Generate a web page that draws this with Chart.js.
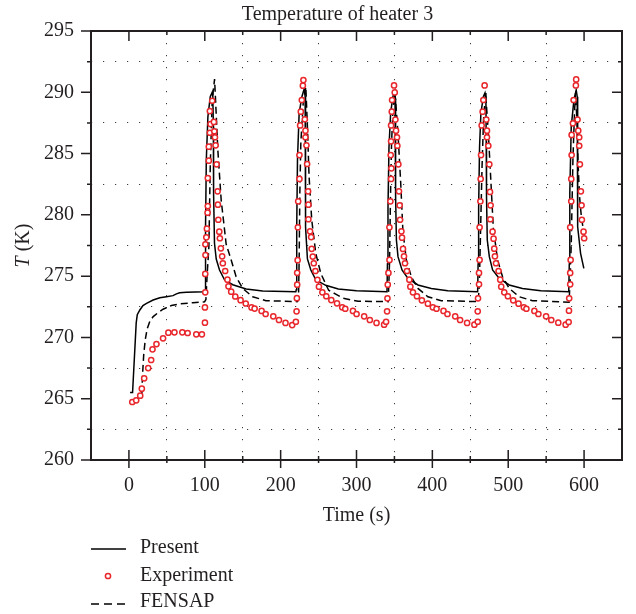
<!DOCTYPE html>
<html>
<head>
<meta charset="utf-8">
<title>Temperature of heater 3</title>
<script src="https://cdn.jsdelivr.net/npm/chart.js@4.4.0/dist/chart.umd.min.js"></script>
<style>
  body { margin: 0; background: #fff; }
  .wrap { position: relative; width: 636px; height: 614px; }
  #chart { position: absolute; left: 0; top: 0; }
  .legend { position: absolute; left: 0; top: 0; width: 636px; height: 614px; pointer-events: none; }
  .legend span {
    position: absolute; left: 140px; height: 24px; line-height: 24px;
    font: 20px 'Liberation Serif', serif; color: #231f20; white-space: nowrap;
  }
</style>
</head>
<body>
<div class="wrap">
  <canvas id="chart" width="636" height="614"></canvas>
  <div class="legend">
    <svg width="636" height="614" style="position:absolute;left:0;top:0">
      <line x1="91" y1="549" x2="126" y2="549" stroke="#000" stroke-width="1.5"/>
      <circle cx="108" cy="576" r="2.6" fill="#fff" stroke="#e8262b" stroke-width="1.5"/>
      <line x1="91" y1="604" x2="126" y2="604" stroke="#000" stroke-width="1.5" stroke-dasharray="8 5"/>
    </svg>
    <span style="top:535px">Present</span>
    <span style="top:563px">Experiment</span>
    <span style="top:589px">FENSAP</span>
  </div>
</div>

<script>
  // Present (solid line)
  const presentTime = [
    1.5, 4.8, 9.6, 11.0, 14.4, 18.5, 23.2, 31.9, 40.7, 49.5, 58.1, 62.6, 66.9, 75.7, 99.7,
    100.3, 101.0, 102.0, 104.1, 107.2, 109.8, 110.6, 111.3, 111.6, 112.8, 115.1, 119.4, 126.0, 136.9, 154.5, 176.3, 220.0,
    220.6, 221.2, 222.2, 224.4, 228.0, 231.2, 232.3, 232.5, 233.2, 235.3, 239.8, 246.3, 259.4, 276.0, 300.0, 340.2,
    340.8, 341.5, 342.8, 345.0, 347.8, 349.5, 350.8, 351.3, 351.8, 352.6, 354.7, 360.0, 367.9, 381.0, 398.6, 420.3, 459.7,
    460.3, 461.0, 462.2, 464.0, 467.2, 469.4, 470.6, 471.0, 471.4, 472.4, 475.1, 479.4, 488.2, 501.3, 518.8, 542.9, 579.8,
    580.5, 581.2, 583.1, 586.6, 589.6, 591.0, 591.2, 591.9, 595.4, 599.7
  ];
  const presentTemp = [
    265.5, 265.5, 271.2, 271.85, 272.24, 272.6, 272.78, 273.05, 273.24, 273.32, 273.41, 273.55, 273.65, 273.68, 273.72,
    273.8, 279.0, 284.5, 288.0, 289.64, 290.0, 289.64, 287.2, 281.76, 277.68, 276.4, 275.5, 274.7, 274.3, 273.95, 273.78, 273.72,
    273.9, 279.0, 284.5, 288.3, 289.64, 290.3, 289.64, 284.5, 279.0, 276.4, 275.5, 274.7, 274.25, 273.95, 273.8, 273.73,
    276.0, 280.5, 285.5, 288.3, 289.6, 289.95, 289.5, 286.0, 281.5, 277.95, 276.59, 275.5, 274.82, 274.28, 274.0, 273.81, 273.73,
    276.0, 280.5, 285.5, 288.3, 289.64, 289.95, 289.5, 286.0, 281.5, 277.95, 276.59, 275.5, 274.82, 274.28, 274.0, 273.81, 273.73,
    276.0, 281.76, 287.2, 289.37, 290.19, 289.64, 284.48, 279.03, 276.86, 275.64
  ];

  // Experiment (red circles)
  const experimentTime = [
    4.4, 9.6, 14.9, 17.0, 20.1, 25.4, 29.3, 31.1, 36.3, 45.0, 52.0, 60.0, 70.4, 77.4, 88.8, 96.2,
    100.2, 100.2, 100.6, 100.6, 100.9, 100.8, 102.0, 102.8, 103.7, 104.0, 104.0, 105.3, 105.3, 106.7, 107.6, 106.7, 109.8,
    112.0, 112.6, 113.4, 114.3, 115.6, 116.9, 117.3, 117.8, 119.1, 119.9, 121.2, 122.9, 123.8, 126.9, 129.9, 131.2,
    134.8, 140.2, 147.2, 154.0, 161.6, 165.7, 174.9, 180.2, 190.3, 197.8, 206.4, 215.2, 220.1,
    221.0, 221.4, 221.8, 221.8, 222.4, 222.7, 223.1, 224.8, 224.8, 225.7, 226.6, 227.9, 229.3, 230.0,
    231.9, 232.7, 232.7, 234.0, 234.9, 236.2, 236.6, 236.6, 238.8, 240.2, 240.9, 242.4, 243.7, 245.8, 248.5,
    250.5, 255.0, 260.2, 266.8, 274.3, 281.2, 285.2, 295.3, 300.1, 310.1, 317.6, 326.4, 336.4, 339.0,
    340.3, 340.8, 341.2, 342.1, 343.5, 343.4, 344.7, 345.6, 346.0, 345.1, 345.6, 345.6, 346.5, 346.9, 349.5, 350.4,
    351.3, 352.1, 353.4, 353.9, 355.2, 356.0, 356.9, 357.4, 359.2, 360.0, 361.3, 362.6, 363.9, 366.5, 369.7,
    371.0, 374.4, 379.7, 386.2, 394.1, 400.7, 405.5, 414.7, 419.9, 430.1, 436.6, 445.8, 455.4, 459.8,
    459.8, 460.2, 461.5, 461.5, 462.3, 462.3, 463.3, 463.7, 464.2, 465.0, 466.3, 467.2, 468.9,
    471.1, 472.0, 472.0, 473.8, 475.1, 476.0, 476.8, 476.4, 479.4, 480.7, 481.6, 482.5, 483.9, 487.3, 489.5,
    490.8, 494.8, 499.6, 506.6, 513.6, 520.6, 524.0, 534.5, 539.8, 549.9, 556.8, 566.0, 575.7, 579.7,
    580.1, 580.4, 581.7, 581.7, 582.3, 581.7, 583.1, 583.1, 583.6, 583.6, 585.3, 586.2, 589.2, 589.6,
    591.4, 592.3, 593.6, 593.6, 594.5, 595.8, 596.7, 597.1, 599.3, 600.1
  ];
  const experimentTemp = [
    264.73, 264.87, 265.25, 265.82, 266.66, 267.5, 268.16, 269.03, 269.46, 269.93, 270.39, 270.42, 270.42, 270.36, 270.25, 270.25,
    271.2, 272.45, 273.68, 275.18, 276.72, 277.6, 278.17, 278.87, 280.18, 280.72, 283.0, 284.42, 285.56, 286.7, 287.41, 288.47, 289.31,
    287.58, 286.82, 286.33, 285.67, 284.12, 281.92, 280.83, 279.6, 278.63, 278.09, 277.27, 276.62, 276.05, 275.42, 274.71, 274.17,
    273.73, 273.34, 273.04, 272.77, 272.45, 272.35, 272.16, 271.91, 271.72, 271.42, 271.18, 271.01, 271.28,
    272.13, 273.2, 274.3, 275.27, 276.3, 278.98, 281.1, 282.93, 284.88, 287.3, 288.42, 289.37, 290.54, 291.0,
    287.8, 286.87, 286.33, 285.67, 284.15, 281.92, 280.83, 279.64, 278.66, 278.19, 277.23, 276.6, 276.05, 275.42, 274.7,
    274.14, 273.68, 273.36, 273.05, 272.78, 272.46, 272.34, 272.16, 271.91, 271.72, 271.42, 271.18, 271.04, 271.28,
    272.13, 273.19, 274.3, 275.26, 276.32, 278.98, 281.1, 282.93, 283.8, 284.88, 286.0, 287.3, 288.42, 289.37, 290.56, 289.99,
    287.77, 286.87, 286.33, 285.64, 284.12, 281.92, 280.78, 279.6, 278.66, 278.14, 277.22, 276.62, 276.05, 275.42, 274.71,
    274.14, 273.68, 273.36, 273.03, 272.75, 272.46, 272.34, 272.16, 271.91, 271.72, 271.42, 271.18, 271.04, 271.28,
    272.13, 273.19, 274.33, 275.26, 276.32, 278.98, 281.1, 282.93, 284.88, 287.3, 288.42, 289.37, 290.56,
    287.77, 286.87, 286.33, 285.64, 284.12, 281.87, 280.78, 279.64, 278.63, 278.06, 277.24, 276.62, 276.05, 275.42, 274.71,
    274.14, 273.68, 273.36, 273.03, 272.75, 272.46, 272.34, 272.16, 271.91, 271.72, 271.42, 271.2, 271.04, 271.26,
    272.18, 273.19, 274.33, 275.26, 276.32, 278.98, 281.1, 282.93, 284.88, 286.52, 287.47, 289.37, 290.56, 291.05,
    287.77, 286.87, 286.33, 285.64, 284.12, 281.92, 280.78, 279.6, 278.63, 278.09
  ];

  // FENSAP (dashed line)
  const fensapTime = [
    17.0, 18.0, 19.5, 21.5, 24.0, 27.5, 32.0, 38.0, 45.0, 56.0, 66.9, 84.4, 99.7,
    101.5, 103.0, 105.4, 107.2, 109.8, 112.9, 114.2, 117.2, 121.6, 128.2, 134.8, 141.3, 150.0, 163.1, 180.7, 221.8,
    223.5, 224.4, 225.3, 226.6, 229.7, 233.2, 235.3, 237.5, 241.0, 246.3, 252.9, 263.3, 272.0, 282.0, 302.0, 341.8,
    343.5, 344.8, 346.2, 348.0, 350.8, 352.5, 354.7, 358.3, 361.3, 362.6, 365.7, 372.3, 381.0, 394.1, 411.7, 460.5,
    462.0, 463.3, 465.5, 467.5, 470.2, 472.0, 473.8, 477.3, 480.7, 482.5, 486.0, 492.5, 501.3, 514.4, 531.9, 580.2,
    581.5, 583.1, 585.3, 587.5, 588.8, 591.0, 591.9, 594.0, 596.5, 599.5
  ];
  const fensapTemp = [
    265.4, 267.0, 268.6, 269.8, 270.7, 271.3, 271.7, 272.0, 272.3, 272.6, 272.73, 272.83, 272.9,
    273.1, 275.0, 277.4, 283.93, 289.37, 291.08, 289.37, 285.29, 281.21, 277.6, 276.32, 274.95, 274.0, 273.32, 273.0, 272.92,
    273.05, 276.32, 281.76, 285.84, 289.1, 290.45, 287.2, 283.11, 279.58, 276.86, 275.23, 273.85, 273.55, 273.2, 272.95, 272.92,
    276.0, 281.5, 285.8, 288.6, 289.9, 288.5, 286.65, 282.57, 278.5, 277.95, 276.32, 274.95, 274.0, 273.32, 273.0, 272.92,
    274.5, 278.0, 283.93, 287.8, 289.9, 288.3, 286.65, 282.57, 278.5, 277.95, 276.32, 274.95, 274.0, 273.32, 273.0, 272.87,
    274.5, 277.68, 284.48, 288.56, 289.92, 287.2, 284.48, 281.5, 279.8, 278.6
  ];

  const chartTitle = 'Temperature of heater 3';
  const ink = '#231f20';
  const serif = "'Liberation Serif', 'Times New Roman', serif";
  Chart.defaults.font.family = serif;
  Chart.defaults.font.size = 20;
  Chart.defaults.color = ink;

  function pts(xs, ys) {
    return xs.map((x, i) => ({ x: x, y: ys[i] }));
  }

  // box around the plot plus the tick marks (left outward, bottom crossing, top/right inward)
  const frameTicks = {
    id: 'frameTicks',
    afterDraw(chart) {
      const { ctx, chartArea: a, scales: { x, y } } = chart;
      ctx.save();
      ctx.strokeStyle = ink;
      ctx.lineWidth = 1.5;
      ctx.beginPath();
      x.ticks.forEach(t => {
        if (t.value <= x.min || t.value >= x.max) return;
        const p = x.getPixelForValue(t.value);
        const major = t.value % 100 === 0;
        ctx.moveTo(p, a.bottom - (major ? 10 : 4));
        ctx.lineTo(p, a.bottom + (major ? 8 : 3));
        ctx.moveTo(p, a.top);
        ctx.lineTo(p, a.top + (major ? 10 : 4));
      });
      y.ticks.forEach(t => {
        const p = y.getPixelForValue(t.value);
        const major = t.value % 5 === 0;
        ctx.moveTo(a.left - (major ? 10 : 4), p);
        ctx.lineTo(a.left, p);
        if (t.value > y.min && t.value < y.max) {
          ctx.moveTo(a.right - (major ? 10 : 4), p);
          ctx.lineTo(a.right, p);
        }
      });
      ctx.stroke();
      ctx.lineWidth = 2;
      ctx.strokeRect(a.left, a.top, a.right - a.left, a.bottom - a.top);
      ctx.restore();
    }
  };

  // title (sits a little right of centre) and y title with italic T
  const extraText = {
    id: 'extraText',
    afterDraw(chart) {
      const { ctx, chartArea } = chart;
      ctx.save();
      ctx.fillStyle = ink;
      ctx.textBaseline = 'middle';
      ctx.textAlign = 'center';
      ctx.font = '20px ' + serif;
      ctx.fillText(chartTitle, 337.5, 15);

      ctx.translate(24, (chartArea.top + chartArea.bottom) / 2);
      ctx.rotate(-Math.PI / 2);
      ctx.textAlign = 'left';
      ctx.font = 'italic 20px ' + serif;
      const a = ctx.measureText('T').width;
      ctx.font = '20px ' + serif;
      const b = ctx.measureText(' (K)').width;
      const x0 = -(a + b) / 2;
      ctx.font = 'italic 20px ' + serif;
      ctx.fillText('T', x0, 0);
      ctx.font = '20px ' + serif;
      ctx.fillText(' (K)', x0 + a, 0);
      ctx.restore();
    }
  };

  const dots = [1.2, 10.8];

  new Chart(document.getElementById('chart'), {
    type: 'scatter',
    data: {
      datasets: [
        {
          label: 'Experiment',
          data: pts(experimentTime, experimentTemp),
          showLine: false,
          pointRadius: 2.6,
          pointBorderWidth: 1.5,
          pointBorderColor: '#e8262b',
          pointBackgroundColor: '#ffffff',
          order: 0
        },
        {
          label: 'Present',
          data: pts(presentTime, presentTemp),
          showLine: true,
          borderColor: '#000',
          borderWidth: 1.5,
          pointRadius: 0,
          tension: 0,
          order: 1
        },
        {
          label: 'FENSAP',
          data: pts(fensapTime, fensapTemp),
          showLine: true,
          borderColor: '#000',
          borderWidth: 1.5,
          borderDash: [7, 4],
          pointRadius: 0,
          tension: 0,
          order: 2
        }
      ]
    },
    options: {
      responsive: false,
      animation: false,
      devicePixelRatio: 1,
      layout: { padding: { left: 0, right: 13, top: 31, bottom: 84 } },
      plugins: {
        legend: { display: false },
        tooltip: { enabled: false },
        title: { display: false }
      },
      scales: {
        x: {
          type: 'linear',
          min: -50,
          max: 650,
          afterFit: s => { s.height = 70; },
          ticks: {
            stepSize: 50,
            autoSkip: false,
            maxRotation: 0,
            padding: 14,
            callback: v => (v % 100 === 0 ? v : '')
          },
          grid: {
            drawTicks: false,
            lineWidth: 1,
            color: c => (c.tick && c.tick.value % 100 !== 0 && c.tick.value > -50 && c.tick.value < 650) ? '#3a3a3a' : 'transparent'
          },
          border: { display: false, dash: dots },
          title: { display: true, text: 'Time (s)', padding: { top: 0, bottom: 2 } }
        },
        y: {
          min: 260,
          max: 295,
          afterFit: s => { s.width = 91; },
          ticks: {
            stepSize: 2.5,
            autoSkip: false,
            padding: 17,
            callback: v => (v % 5 === 0 ? v : '')
          },
          grid: {
            drawTicks: false,
            lineWidth: 1,
            color: c => (c.tick && c.tick.value % 5 !== 0) ? '#3a3a3a' : 'transparent'
          },
          border: { display: false, dash: dots }
        }
      }
    },
    plugins: [frameTicks, extraText]
  });
</script>
</body>
</html>
